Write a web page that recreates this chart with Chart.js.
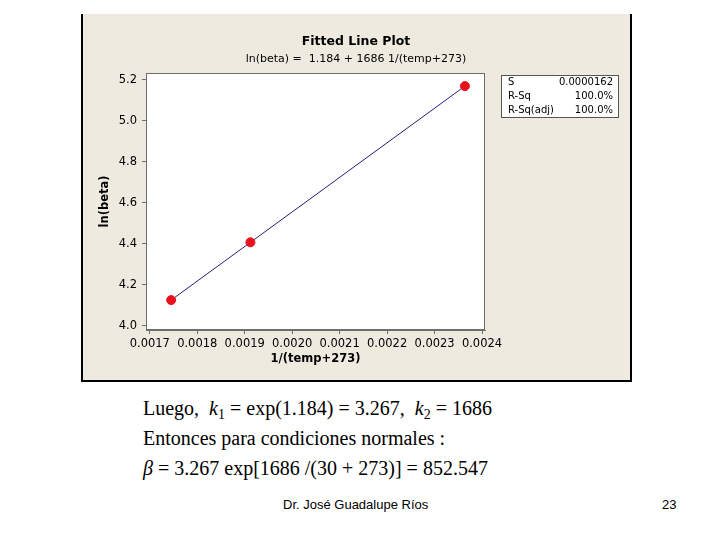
<!DOCTYPE html>
<html>
<head>
<meta charset="utf-8">
<script src="https://cdn.jsdelivr.net/npm/chart.js@4/dist/chart.umd.min.js"></script>
<style>
  body { margin: 0; width: 720px; height: 540px; background: #fff; position: relative; overflow: hidden; }
  #panel { position: absolute; left: 81px; top: 14px; width: 547px; height: 366px;
           background: #eeeae0; border-left: 2px solid #000; border-right: 2px solid #000; border-bottom: 2px solid #000; }
  #plot { display: block; }
  .eq { position: absolute; left: 143px; font-family: "Liberation Serif", "Times New Roman", serif; font-size: 20px; color: #000; white-space: nowrap; }
  .eq sub { font-size: 14px; vertical-align: -4px; line-height: 0; }
  .foot { position: absolute; top: 497px; font-family: "Liberation Sans", Arial, sans-serif; font-size: 13px; color: #000; }
</style>
</head>
<body>
<div id="panel"><canvas id="plot" width="547" height="366"></canvas></div>

<div class="eq" style="top:397px">Luego,&nbsp; <i>k</i><sub>1</sub> = exp(1.184) = 3.267,&nbsp; <i>k</i><sub>2</sub> = 1686</div>
<div class="eq" style="top:427px">Entonces para condiciones normales :</div>
<div class="eq" style="top:457px"><i>β</i> = 3.267 exp[1686 /(30 + 273)] = 852.547</div>

<div class="foot" style="left:283px">Dr. José Guadalupe Ríos</div>
<div class="foot" style="left:662px">23</div>

<script>
// --- data ---
const invTemp = [0.001745, 0.001912, 0.002364];   // 1/(temp+273)
const lnBeta = [4.126, 4.408, 5.170];             // ln(beta)
const fitX = [0.001745, 0.002364];                // fitted line ends
const fitY = [4.126, 5.170];
const xTicks = [0.0017, 0.0018, 0.0019, 0.0020, 0.0021, 0.0022, 0.0023, 0.0024];
const yTicks = [4.0, 4.2, 4.4, 4.6, 4.8, 5.0, 5.2];
const statNames = ['S', 'R-Sq', 'R-Sq(adj)'];
const statValues = ['0.0000162', '100.0%', '100.0%'];
const chartTitle = 'Fitted Line Plot';
const chartSubtitle = 'ln(beta) =  1.184 + 1686 1/(temp+273)';

const FONT = '"DejaVu Sans", Tahoma, sans-serif';

// white plot background, frame, titles and the stats box
const decor = {
    id: 'decor',
    beforeDraw(chart) {
        const a = chart.chartArea, c = chart.ctx;
        c.save();
        c.fillStyle = '#fff';
        c.fillRect(a.left, a.top, a.right - a.left, a.bottom - a.top);
        c.restore();
    },
    afterDraw(chart) {
        const a = chart.chartArea, c = chart.ctx;
        c.save();
        c.strokeStyle = '#6e6e6e';
        c.lineWidth = 1;
        c.strokeRect(a.left + 0.5, a.top + 0.5, a.right - a.left - 1, a.bottom - a.top - 1);

        c.fillStyle = '#000';
        c.textAlign = 'center';
        c.textBaseline = 'middle';
        c.font = 'bold 12.5px ' + FONT;
        c.fillText(chartTitle, 273, 28);
        c.font = '11px ' + FONT;
        c.fillText(chartSubtitle, 273, 45);

        // stats box
        c.fillStyle = '#fff';
        c.fillRect(418, 61, 117, 42);
        c.strokeStyle = '#555';
        c.strokeRect(418.5, 61.5, 117, 42);
        c.fillStyle = '#000';
        c.font = '10px ' + FONT;
        statNames.forEach((n, i) => {
            const y = 68 + i * 14;
            c.textAlign = 'left';
            c.fillText(n, 425, y);
            c.textAlign = 'right';
            c.fillText(statValues[i], 530, y);
        });
        c.restore();
    }
};

new Chart(document.getElementById('plot'), {
    type: 'scatter',
    data: {
        datasets: [
            {
                label: 'Puntos',
                data: invTemp.map((x, i) => ({ x: x, y: lnBeta[i] })),
                backgroundColor: '#e8121c',
                borderColor: '#e8121c',
                pointRadius: 4.5,
                order: 0
            },
            {
                label: 'Ajuste',
                type: 'line',
                data: fitX.map((x, i) => ({ x: x, y: fitY[i] })),
                borderColor: '#20207a',
                borderWidth: 1,
                pointRadius: 0,
                fill: false,
                order: 1
            }
        ]
    },
    options: {
        responsive: false,
        animation: false,
        layout: { padding: { left: 0, right: 145, top: 59, bottom: 0 } },
        plugins: { legend: { display: false }, tooltip: { enabled: false }, title: { display: false } },
        scales: {
            x: {
                type: 'linear',
                min: 0.001692,
                max: 0.0024063,
                afterBuildTicks: s => { s.ticks = xTicks.map(v => ({ value: v })); },
                afterFit: s => { s.height = 50; },
                grid: { drawOnChartArea: false, drawTicks: true, tickLength: 4, color: '#6e6e6e' },
                border: { display: true, color: '#6e6e6e' },
                ticks: { color: '#000', padding: 3, maxRotation: 0, font: { family: FONT, size: 11.5 },
                         callback: v => v.toFixed(4) },
                title: { display: true, text: '1/(temp+273)', color: '#000',
                         font: { family: FONT, size: 11.5, weight: 'bold' }, padding: { top: 0, bottom: 14 } }
            },
            y: {
                type: 'linear',
                min: 3.98,
                max: 5.234,
                afterBuildTicks: s => { s.ticks = yTicks.map(v => ({ value: v })); },
                afterFit: s => { s.width = 63; },
                grid: { drawOnChartArea: false, drawTicks: true, tickLength: 4, color: '#6e6e6e' },
                border: { display: true, color: '#6e6e6e' },
                ticks: { color: '#000', padding: 5, font: { family: FONT, size: 11.5 },
                         callback: v => v.toFixed(1) },
                title: { display: true, text: 'ln(beta)', color: '#000',
                         font: { family: FONT, size: 11.5, weight: 'bold' }, padding: { top: 15, bottom: 0 } }
            }
        }
    },
    plugins: [decor]
});
</script>
</body>
</html>
